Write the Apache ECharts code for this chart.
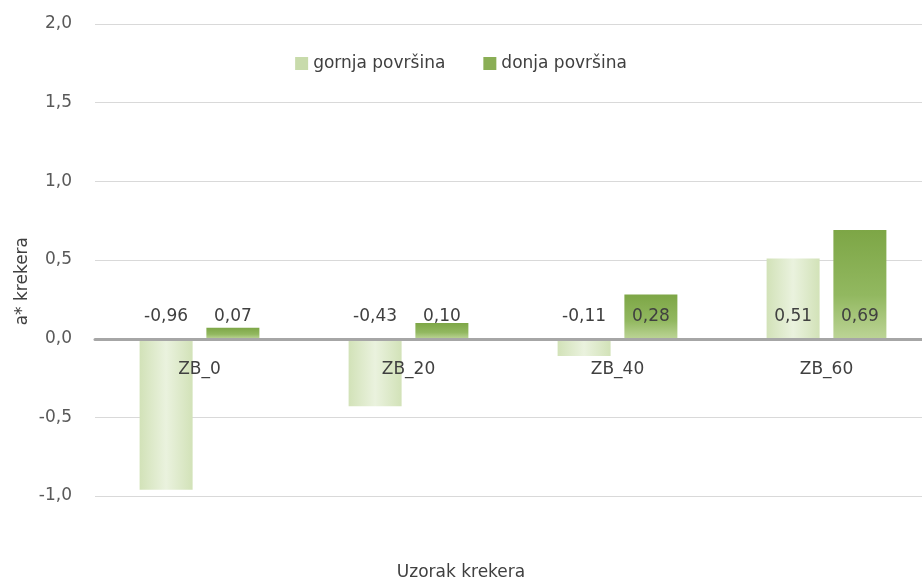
<!DOCTYPE html>
<html>
<head>
<meta charset="utf-8">
<script src="https://cdn.jsdelivr.net/npm/echarts@6/dist/echarts.min.js"></script>
<style>
  html, body { margin: 0; padding: 0; background: #fff; }
  #main { width: 922px; height: 585px; }
</style>
</head>
<body>
<div id="main"></div>
<script>
// podaci
const categories = ['ZB_0', 'ZB_20', 'ZB_40', 'ZB_60'];
const gornja = [-0.96, -0.43, -0.11, 0.51];
const donja = [0.07, 0.10, 0.28, 0.69];
const yTicks = [-1, -0.5, 0, 0.5, 1, 1.5, 2];

const fontFam = '"DejaVu Sans", sans-serif';
const fs = 17;

function fmt(v, d) {
  return v.toFixed(d).replace('.', ',');
}

// oznake: pozitivni stupci -> unutra pri bazi, negativni -> iznad nule
function withLabels(arr) {
  return arr.map(v => ({
    value: v,
    label: {
      position: v >= 0 ? 'insideBottom' : 'top',
      distance: 14
    }
  }));
}

const lightColor = {
  type: 'linear', x: 0, y: 0, x2: 1, y2: 0,
  colorStops: [
    { offset: 0, color: '#d2e2b8' },
    { offset: 0.5, color: '#eaf2de' },
    { offset: 1, color: '#d2e2b8' }
  ]
};
const darkColor = {
  type: 'linear', x: 0, y: 0, x2: 0, y2: 1,
  colorStops: [
    { offset: 0, color: '#7da646' },
    { offset: 0.6, color: '#92b860' },
    { offset: 1, color: '#bcd496' }
  ]
};

let chart = echarts.init(document.getElementById('main'));
chart.setOption({
  animation: false,
  textStyle: { fontFamily: fontFam },
  title: {
    text: 'Uzorak krekera',
    left: 'center',
    bottom: -1,
    textStyle: { fontFamily: fontFam, fontSize: fs, fontWeight: 'normal', color: '#404040' }
  },
  legend: {
    top: 50,
    left: 'center',
    itemWidth: 13,
    itemHeight: 13,
    itemGap: 38,
    icon: 'rect',
    textStyle: { fontFamily: fontFam, fontSize: fs, color: '#404040' },
    data: [
      { name: 'gornja površina', itemStyle: { color: '#c8dbab' } },
      { name: 'donja površina', itemStyle: { color: '#8aae55' } }
    ]
  },
  grid: {
    left: 95,
    width: 836,
    top: 24,
    bottom: 89,
    containLabel: false,
    outerBoundsMode: 'none'
  },
  graphic: [{
    type: 'text',
    left: 14,
    top: 237,
    rotation: Math.PI / 2,
    style: {
      text: 'a* krekera',
      fontFamily: fontFam,
      fontSize: fs,
      fill: '#404040'
    }
  }],
  xAxis: {
    type: 'category',
    data: categories,
    // os pomaknuta na nulu (donji rub mreže je na -1,0)
    offset: -157,
    z: 5,
    axisLine: { onZero: false, lineStyle: { color: '#a6a6a6', width: 3 } },
    axisTick: { show: false },
    axisLabel: { margin: 22, fontSize: fs, color: '#404040', fontFamily: fontFam }
  },
  yAxis: {
    type: 'value',
    min: yTicks[0],
    max: yTicks[yTicks.length - 1],
    interval: 0.5,
    axisLine: { show: false },
    axisTick: { show: false },
    axisLabel: {
      margin: 23,
      fontSize: fs,
      color: '#595959',
      fontFamily: fontFam,
      formatter: v => fmt(v, 1)
    },
    splitLine: { lineStyle: { color: '#d9d9d9', width: 1 } }
  },
  series: [
    {
      name: 'gornja površina',
      type: 'bar',
      barWidth: 53,
      barGap: '26%',
      data: withLabels(gornja),
      itemStyle: { color: lightColor },
      label: {
        show: true,
        fontSize: fs,
        color: '#404040',
        fontFamily: fontFam,
        formatter: p => fmt(p.value, 2)
      }
    },
    {
      name: 'donja površina',
      type: 'bar',
      barWidth: 53,
      barGap: '26%',
      data: withLabels(donja),
      itemStyle: { color: darkColor },
      label: {
        show: true,
        fontSize: fs,
        color: '#404040',
        fontFamily: fontFam,
        formatter: p => fmt(p.value, 2)
      }
    }
  ]
});
</script>
</body>
</html>
